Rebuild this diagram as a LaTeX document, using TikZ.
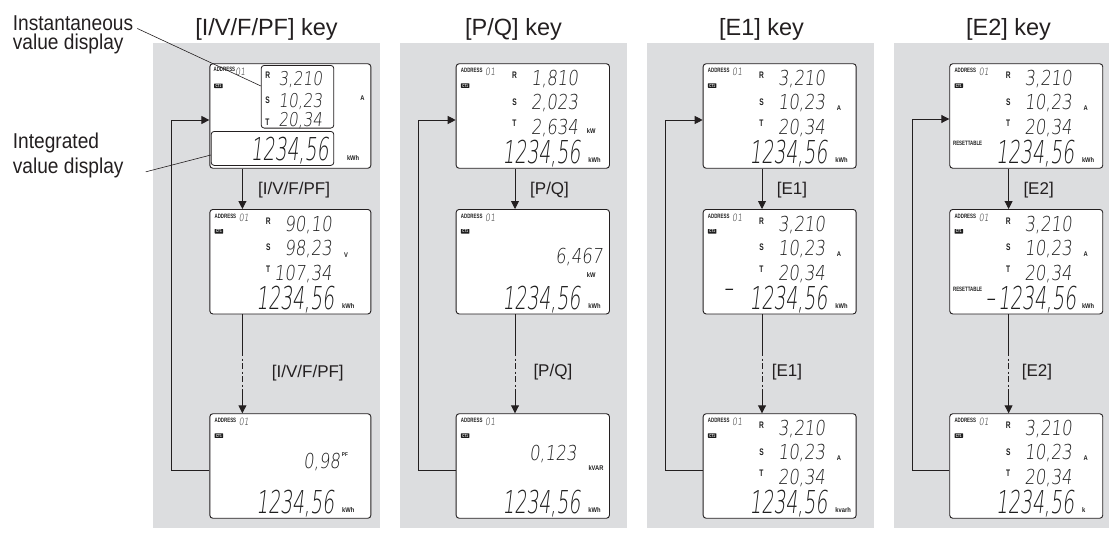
\documentclass[tikz,border=0pt]{standalone}
\usepackage{fontspec}
\setmainfont{Liberation Sans}
\newfontfamily\condf[FakeStretch=0.89]{Liberation Sans}
\newfontfamily\lcdbigf[FakeSlant=0.12,FakeStretch=0.6]{DejaVu Sans ExtraLight}
\newfontfamily\lcdmidf[FakeSlant=0.12,FakeStretch=0.8]{DejaVu Sans ExtraLight}
\newfontfamily\lcdbf[FakeStretch=0.7]{Liberation Sans}
\newfontfamily\unitf[FakeStretch=0.85]{Liberation Sans}
\usetikzlibrary{arrows.meta,calc}
\definecolor{panelgray}{RGB}{220,221,223}
\definecolor{ink}{RGB}{35,31,32}
\definecolor{lcdink}{RGB}{30,30,30}
\tikzset{
  panel/.style={fill=panelgray},
  title/.style={font=\fontsize{23.5}{26}\selectfont, text=ink, inner sep=0, anchor=base},
  keylbl/.style={font=\fontsize{17}{19}\selectfont, text=ink, inner sep=0, anchor=base west},
  sidelbl/.style={font=\condf\fontsize{21.5}{19.5}\selectfont, text=ink, inner sep=0, anchor=north west, align=left},
  sidelbltwo/.style={font=\condf\fontsize{21.5}{24.5}\selectfont, text=ink, inner sep=0, anchor=north west, align=left},
  lcdframe/.style={draw=ink, line width=0.9pt, rounded corners=3pt, fill=white, anchor=north west, minimum height=104.5pt, inner sep=0},
  innerbox/.style={draw=ink, line width=0.8pt, rounded corners=3pt, anchor=north west, inner sep=0},
  addrtxt/.style={font=\lcdbf\bfseries\fontsize{6.3}{6.3}\selectfont, text=lcdink, inner sep=0, anchor=base west},
  segsmall/.style={font=\lcdmidf\fontsize{10}{10}\selectfont, text=lcdink, inner sep=0, anchor=base west},
  ctbox/.style={fill=lcdink, text=white, font=\lcdbf\bfseries\fontsize{4.3}{4.3}\selectfont, inner xsep=1.4pt, inner ysep=0.7pt, rounded corners=0.4pt},
  rstlab/.style={font=\lcdbf\bfseries\fontsize{9.5}{9.5}\selectfont, text=lcdink, inner sep=0, anchor=base west},
  midnum/.style={font=\lcdmidf\fontsize{20.6}{20.6}\selectfont, text=lcdink, inner sep=0, anchor=base east},
  midsmall/.style={font=\lcdmidf\fontsize{19}{19}\selectfont, text=lcdink, inner sep=0, anchor=base east},
  bignum/.style={font=\lcdbigf\fontsize{31.5}{31.5}\selectfont, text=lcdink, inner sep=0, anchor=base east},
  minusnum/.style={font=\lcdbigf\fontsize{31.5}{31.5}\selectfont, text=lcdink, inner sep=0, anchor=base west},
  unittxt/.style={font=\unitf\bfseries\fontsize{6.8}{6.8}\selectfont, text=lcdink, inner sep=0, anchor=base west},
  tinytxt/.style={font=\unitf\bfseries\fontsize{5.5}{5.5}\selectfont, text=lcdink, inner sep=0, anchor=base west},
  conn/.style={draw=ink, line width=0.9pt},
  tip/.style={-{Triangle[length=8pt,width=8pt]}},
  dashdot/.style={dash pattern=on 6pt off 2.5pt on 2pt off 2.5pt},
  leader/.style={draw=ink, line width=0.6pt},
}
\newcommand{\LcdHead}[1]{%
  \node[addrtxt] (#1ad) at (5,9) {ADDRESS};
  \node[segsmall] (#1no) at (29.3,12.3) {01};
  \node[ctbox] (#1ct) at (9.5,22.3) {CT1};}
\newcommand{\LcdRST}[4]{%
  \node[rstlab] (#1rl) at (56.3,15) {R};
  \node[rstlab] (#1sl) at (56.5,41.7) {S};
  \node[rstlab] (#1tl) at (56.5,63.3) {T};
  \node[midnum] (#1rv) at (122.7,22.5) {#2};
  \node[midnum] (#1sv) at (122.7,46.5) {#3};
  \node[midnum] (#1tv) at (122.7,71.3) {#4};}
\newcommand{\LcdBig}[3]{%
  \node[bignum] (#1bg) at (125,100) {#2};
  \node[unittxt] (#1un) at (132.5,99.3) {#3};}
\begin{document}
\begin{tikzpicture}[x=1pt,y=-1pt]
\useasboundingbox (0,0) rectangle (1109,533);
% panels
\fill[panel] (152.7,42.7) rectangle (380,528);
\fill[panel] (400,42.7) rectangle (626.7,528);
\fill[panel] (647,42.7) rectangle (874,528);
\fill[panel] (894,42.7) rectangle (1109,528);
% titles
\node[title] (t1) at (266.5,35) {[I/V/F/PF] key};
\node[title] (t2) at (513.5,35) {[P/Q] key};
\node[title] (t3) at (761.5,35) {[E1] key};
\node[title] (t4) at (1008.5,35) {[E2] key};
% side labels
\node[sidelbl] (instlbl) at (12.7,15.5) {Instantaneous\\value display};
\node[sidelbltwo] (intlbl) at (12.7,132.9) {Integrated\\value display};

% ---------- panel 1 ----------
\begin{scope}[shift={(209.4,63.3)}]
  \node[lcdframe, minimum width=161pt] (p1a) at (0,0) {};
  \node[innerbox, minimum width=72.6pt, minimum height=62.7pt] (p1ainst) at (51.4,1.7) {};
  \node[innerbox, minimum width=122.6pt, minimum height=34pt] (p1aint) at (1.4,67.7) {};
  \node[addrtxt] (p1aad) at (4,8.4) {ADDRESS};
  \node[segsmall] (p1ano) at (25.7,11.7) {01};
  \node[ctbox] (p1act) at (9,22.5) {CT1};
  \node[rstlab] (p1arl) at (55.7,15) {R};
  \node[rstlab] (p1asl) at (55.7,40) {S};
  \node[rstlab] (p1atl) at (55.7,62) {T};
  \node[midsmall] (p1arv) at (113,22.5) {3,210};
  \node[midsmall] (p1asv) at (113,44.5) {10,23};
  \node[midsmall] (p1atv) at (113,63.3) {20,34};
  \node[unittxt] (p1aun1) at (150.7,37.4) {A};
  \node[bignum] (p1abg) at (119.5,97.5) {1234,56};
  \node[unittxt] (p1aun) at (137.4,97.4) {kWh};
\end{scope}
\begin{scope}[shift={(209.4,209)}]
  \node[lcdframe, minimum width=161pt] (p1b) at (0,0) {};
  \LcdHead{p1b}
  \LcdRST{p1b}{90,10}{98,23}{107,34}
  \node[unittxt] (p1bun1) at (134.5,48.3) {V};
  \LcdBig{p1b}{1234,56}{kWh}
\end{scope}
\begin{scope}[shift={(209.4,413.3)}]
  \node[lcdframe, minimum width=161pt] (p1c) at (0,0) {};
  \LcdHead{p1c}
  \node[midnum] (p1cv) at (130.8,55.3) {0,98};
  \node[tinytxt] (p1cpf) at (132.3,43.4) {PF};
  \LcdBig{p1c}{1234,56}{kWh}
\end{scope}

% ---------- panel 2 ----------
\begin{scope}[shift={(455.7,63.3)}]
  \node[lcdframe, minimum width=153.3pt] (p2a) at (0,0) {};
  \LcdHead{p2a}
  \LcdRST{p2a}{1,810}{2,023}{2,634}
  \node[unittxt] (p2aun1) at (131,70) {kW};
  \LcdBig{p2a}{1234,56}{kWh}
\end{scope}
\begin{scope}[shift={(455.7,209)}]
  \node[lcdframe, minimum width=153.3pt] (p2b) at (0,0) {};
  \LcdHead{p2b}
  \node[midnum] (p2bv) at (147,54.3) {6,467};
  \node[unittxt] (p2bun1) at (131,68) {kW};
  \LcdBig{p2b}{1234,56}{kWh}
\end{scope}
\begin{scope}[shift={(455.7,413.3)}]
  \node[lcdframe, minimum width=153.3pt] (p2c) at (0,0) {};
  \LcdHead{p2c}
  \node[midnum] (p2cv) at (121,47) {0,123};
  \node[unittxt] (p2cun1) at (132.6,57.3) {kVAR};
  \LcdBig{p2c}{1234,56}{kWh}
\end{scope}

% ---------- panel 3 ----------
\begin{scope}[shift={(702.7,63.3)}]
  \node[lcdframe, minimum width=153pt] (p3a) at (0,0) {};
  \LcdHead{p3a}
  \LcdRST{p3a}{3,210}{10,23}{20,34}
  \node[unittxt] (p3aun1) at (134,47.4) {A};
  \LcdBig{p3a}{1234,56}{kWh}
\end{scope}
\begin{scope}[shift={(702.7,209)}]
  \node[lcdframe, minimum width=153pt] (p3b) at (0,0) {};
  \LcdHead{p3b}
  \LcdRST{p3b}{3,210}{10,23}{20,34}
  \node[unittxt] (p3bun1) at (134,47.4) {A};
  \node[minusnum] (p3bmi) at (20.6,89) {–};
  \LcdBig{p3b}{1234,56}{kWh}
\end{scope}
\begin{scope}[shift={(702.7,413.3)}]
  \node[lcdframe, minimum width=153pt] (p3c) at (0,0) {};
  \LcdHead{p3c}
  \LcdRST{p3c}{3,210}{10,23}{20,34}
  \node[unittxt] (p3cun1) at (134,47.4) {A};
  \LcdBig{p3c}{1234,56}{kvarh}
\end{scope}

% ---------- panel 4 ----------
\begin{scope}[shift={(949.3,63.3)}]
  \node[lcdframe, minimum width=153pt] (p4a) at (0,0) {};
  \LcdHead{p4a}
  \LcdRST{p4a}{3,210}{10,23}{20,34}
  \node[unittxt] (p4aun1) at (134,47.4) {A};
  \node[addrtxt] (p4ars) at (3.6,82) {RESETTABLE};
  \LcdBig{p4a}{1234,56}{kWh}
\end{scope}
\begin{scope}[shift={(949.3,209)}]
  \node[lcdframe, minimum width=153pt] (p4b) at (0,0) {};
  \LcdHead{p4b}
  \LcdRST{p4b}{3,210}{10,23}{20,34}
  \node[unittxt] (p4bun1) at (134,47.4) {A};
  \node[addrtxt] (p4brs) at (3.6,82) {RESETTABLE};
  \node[minusnum] (p4bmi) at (36,99) {–};
  \node[bignum] (p4bbg) at (127,100) {1234,56};
  \node[unittxt] (p4bun) at (132.5,99.3) {kWh};
\end{scope}
\begin{scope}[shift={(949.3,413.3)}]
  \node[lcdframe, minimum width=153pt] (p4c) at (0,0) {};
  \LcdHead{p4c}
  \LcdRST{p4c}{3,210}{10,23}{20,34}
  \node[unittxt] (p4cun1) at (134,47.4) {A};
  \LcdBig{p4c}{1234,56}{k}
\end{scope}

% ---------- leader lines ----------
\draw[leader] ([shift={(4pt,-13pt)}]instlbl.north east) -- ($(p1ainst.north west)!0.33!(p1ainst.south west)$);
\draw[leader] ([shift={(22pt,6pt)}]intlbl.south east) -- ($(p1aint.north west)!0.69!(p1aint.south west)$);

% ---------- connectors ----------
% panel 1
\draw[conn,tip] ($(p1a.south west)+(33,0)$) -- ($(p1b.north west)+(33,0)$);
\coordinate (p1d1) at (242.4,350);
\coordinate (p1d2) at (242.4,393);
\draw[conn] ($(p1b.south west)+(33,0)$) -- (p1d1);
\draw[conn,dashdot] (p1d1) -- (p1d2);
\draw[conn,tip] (p1d2) -- ($(p1c.north west)+(33,0)$);
\coordinate (p1lb) at (171,470.5);
\coordinate (p1lt) at (171,120);
\draw[conn,tip] (p1c.west |- p1lb) -- (p1lb) -- (p1lt) -- (p1a.west |- p1lt);
\node[keylbl] (k1a) at (258,194) {[I/V/F/PF]};
\node[keylbl] (k1b) at (271.7,377) {[I/V/F/PF]};
% panel 2
\draw[conn,tip] ($(p2a.south west)+(59.3,0)$) -- ($(p2b.north west)+(59.3,0)$);
\coordinate (p2d1) at (515,350);
\coordinate (p2d2) at (515,393);
\draw[conn] ($(p2b.south west)+(59.3,0)$) -- (p2d1);
\draw[conn,dashdot] (p2d1) -- (p2d2);
\draw[conn,tip] (p2d2) -- ($(p2c.north west)+(59.3,0)$);
\coordinate (p2lb) at (418.3,470.5);
\coordinate (p2lt) at (418.3,120);
\draw[conn,tip] (p2c.west |- p2lb) -- (p2lb) -- (p2lt) -- (p2a.west |- p2lt);
\node[keylbl] (k2a) at (530,194) {[P/Q]};
\node[keylbl] (k2b) at (533.3,376) {[P/Q]};
% panel 3
\draw[conn,tip] ($(p3a.south west)+(59.3,0)$) -- ($(p3b.north west)+(59.3,0)$);
\coordinate (p3d1) at (762,350);
\coordinate (p3d2) at (762,393);
\draw[conn] ($(p3b.south west)+(59.3,0)$) -- (p3d1);
\draw[conn,dashdot] (p3d1) -- (p3d2);
\draw[conn,tip] (p3d2) -- ($(p3c.north west)+(59.3,0)$);
\coordinate (p3lb) at (665,470.5);
\coordinate (p3lt) at (665,120);
\draw[conn,tip] (p3c.west |- p3lb) -- (p3lb) -- (p3lt) -- (p3a.west |- p3lt);
\node[keylbl] (k3a) at (776.7,194) {[E1]};
\node[keylbl] (k3b) at (771.7,376) {[E1]};
% panel 4
\draw[conn,tip] ($(p4a.south west)+(59.3,0)$) -- ($(p4b.north west)+(59.3,0)$);
\coordinate (p4d1) at (1008.6,350);
\coordinate (p4d2) at (1008.6,393);
\draw[conn] ($(p4b.south west)+(59.3,0)$) -- (p4d1);
\draw[conn,dashdot] (p4d1) -- (p4d2);
\draw[conn,tip] (p4d2) -- ($(p4c.north west)+(59.3,0)$);
\coordinate (p4lb) at (912,470.5);
\coordinate (p4lt) at (912,119);
\draw[conn,tip] (p4c.west |- p4lb) -- (p4lb) -- (p4lt) -- (p4a.west |- p4lt);
\node[keylbl] (k4a) at (1023.3,194) {[E2]};
\node[keylbl] (k4b) at (1021.7,376) {[E2]};
\end{tikzpicture}
\end{document}
